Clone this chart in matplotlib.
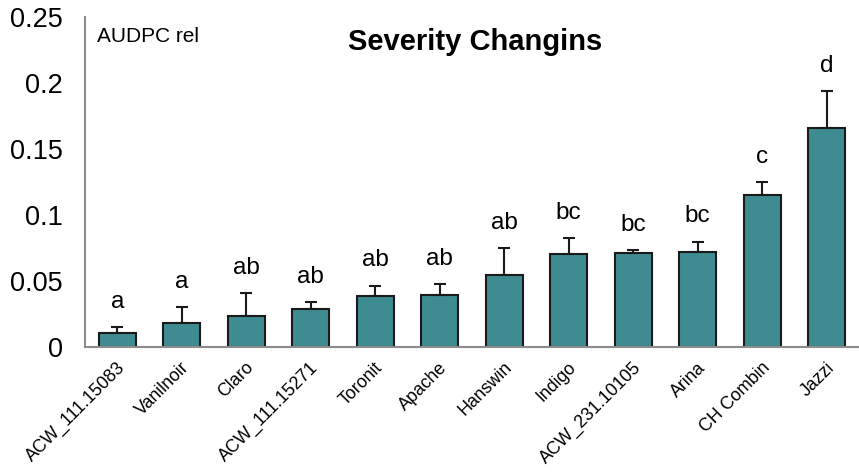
import numpy as np
import matplotlib.pyplot as plt
import matplotlib.transforms as mtransforms

plt.rcParams['font.family'] = ['Liberation Sans', 'DejaVu Sans']

# Werte
varieties = ['ACW_111.15083', 'Vanilnoir', 'Claro', 'ACW_111.15271', 'Toronit',
             'Apache', 'Hanswin', 'Indigo', 'ACW_231.10105', 'Arina',
             'CH Combin', 'Jazzi']
audpc = [0.0109, 0.0180, 0.0238, 0.0284, 0.0382, 0.0395,
         0.0547, 0.0707, 0.0712, 0.0717, 0.1147, 0.1654]
err = [0.0043, 0.0122, 0.0167, 0.0058, 0.0082, 0.0084,
       0.0203, 0.0119, 0.0023, 0.0081, 0.0099, 0.0284]
letters = ['a', 'a', 'ab', 'ab', 'ab', 'ab', 'ab', 'bc', 'bc', 'bc', 'c', 'd']

fig = plt.figure(figsize=(8.59, 4.74), dpi=100)
ax = fig.add_axes([0.099, 0.268, 0.901, 0.697])

x = np.arange(len(varieties))
ax.bar(x, audpc, width=0.58, color='#3e8c92', edgecolor='#1a1a1a', linewidth=1.5,
       yerr=[np.zeros(len(err)), err],
       error_kw=dict(ecolor='#1a1a1a', elinewidth=1.5, capsize=4, capthick=1.5))

for xi, m, e, l in zip(x, audpc, err, letters):
    ax.text(xi, m + e + 0.0145, l, ha='center', va='baseline', fontsize=17.5)

ax.set_xlim(-0.5, len(varieties) - 0.5)
ax.set_ylim(0, 0.25)
ax.set_yticks([0, 0.05, 0.1, 0.15, 0.2, 0.25])
ax.set_yticklabels(['0', '0.05', '0.1', '0.15', '0.2', '0.25'], fontsize=19.5)
ax.set_xticks(x)
ax.set_xticklabels(varieties, rotation=45, ha='right', va='center',
                   rotation_mode='anchor', fontsize=12.8)
ax.tick_params(axis='y', length=0, pad=16)
ax.tick_params(axis='x', length=0, pad=13)

# Beschriftungen etwas nach rechts schieben
shift = mtransforms.ScaledTranslation(5 / 100, 0, fig.dpi_scale_trans)
for lab in ax.get_xticklabels():
    lab.set_transform(lab.get_transform() + shift)

for s in ['top', 'right']:
    ax.spines[s].set_visible(False)
for s in ['left', 'bottom']:
    ax.spines[s].set_color('#8c8c8c')
    ax.spines[s].set_linewidth(1.5)

ax.text(0.015, 0.97, 'AUDPC rel', transform=ax.transAxes, fontsize=15, va='top')
ax.text(0.504, 0.9, 'Severity Changins', transform=ax.transAxes, fontsize=21,
        fontweight='bold', ha='center', va='baseline')

fig.savefig('out.png', dpi=100)
